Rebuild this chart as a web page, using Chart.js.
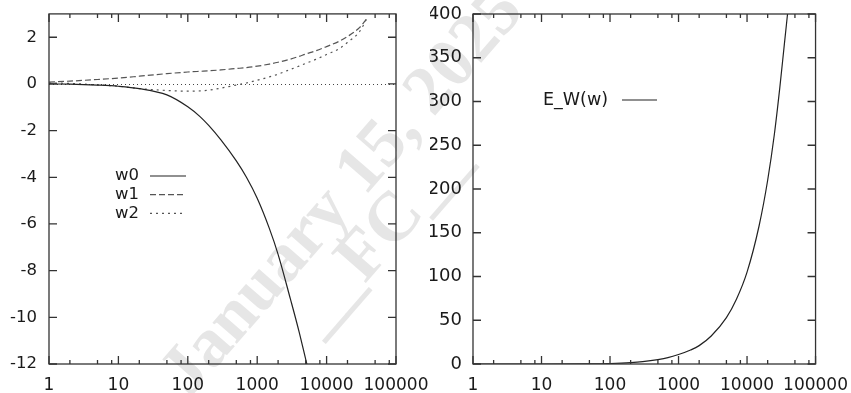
<!DOCTYPE html>
<html>
<head>
<meta charset="utf-8">
<script src="https://cdn.jsdelivr.net/npm/chart.js@4.4.1/dist/chart.umd.min.js"></script>
<style>
body { margin: 0; background: #fff; width: 851px; height: 393px; overflow: hidden; position: relative; }
#izq { position: absolute; left: 0; top: 0; }
#der { position: absolute; left: 430px; top: 0; }
.marca { position: absolute; font: bold 70px "Liberation Serif", serif; color: #e6e6e6; white-space: nowrap;
         transform: translate(-50%, -50%) rotate(-49deg); }
</style>
</head>
<body>
<div class="marca" style="left:340px; top:190px">January 15, 2025</div>
<div class="marca" style="left:378px; top:234px">__FC__</div>
<canvas id="izq" width="440" height="393"></canvas>
<canvas id="der" width="421" height="393"></canvas>
<script>
// ejes
const xMayores = [1, 10, 100, 1000, 10000, 100000];
const xEtiquetas = ['1', '10', '100', '1000', '10000', '100000'];
const xMenores = [2, 5, 8];
const yIzq = [-12, -10, -8, -6, -4, -2, 0, 2];
const yDer = [0, 50, 100, 150, 200, 250, 300, 350, 400];

// grafica izquierda: w0, w1, w2
const w  = [1, 2, 5, 10, 20, 50, 100, 150, 200, 300, 500, 700, 1000, 1500, 2000, 3000, 4000, 5000, 7000, 10000, 15000, 20000, 30000, 38000];
const w0 = [0, -0.01, -0.05, -0.1, -0.2, -0.47, -0.98, -1.4, -1.78, -2.4, -3.3, -4.0, -4.9, -6.2, -7.3, -9.2, -10.6, -11.8, -13.6, null, null, null, null, null];
const w1 = [0.08, 0.12, 0.19, 0.25, 0.33, 0.44, 0.51, 0.54, 0.56, 0.6, 0.66, 0.7, 0.76, 0.85, 0.93, 1.06, 1.18, 1.28, 1.42, 1.6, 1.82, 2.03, 2.42, 2.8];
const w2 = [0.04, 0.02, -0.04, -0.1, -0.2, -0.28, -0.31, -0.3, -0.27, -0.18, -0.05, 0.04, 0.16, 0.3, 0.42, 0.62, 0.76, 0.88, 1.05, 1.26, 1.5, 1.78, 2.25, 2.8];

// grafica derecha: E_W(w)
const wE = [1, 10, 50, 100, 200, 300, 500, 700, 1000, 1500, 2000, 3000, 5000, 7000, 10000, 15000, 20000, 25000, 30000, 35000, 39000];
const eW = [0, 0, 0.2, 0.6, 1.6, 2.7, 5, 7.2, 10.8, 16, 21, 32, 53, 74, 105, 158, 210, 262, 315, 365, 400];

Chart.defaults.font.family = '"DejaVu Sans", sans-serif';
Chart.defaults.font.size = 16;
Chart.defaults.color = '#1a1a1a';
Chart.defaults.animation = false;

const puntos = (xs, ys) => xs.map((x, i) => ({ x: x, y: ys[i] }));

// marco con marcas hacia adentro, como gnuplot
const marcoPlugin = {
    id: 'marco',
    beforeDatasetsDraw(chart, args, o) {
        if (!o.cero) return;
        const { ctx, chartArea: a, scales: { y } } = chart;
        const py = Math.round(y.getPixelForValue(0)) + 0.5;
        ctx.save();
        ctx.strokeStyle = '#444';
        ctx.lineWidth = 1;
        ctx.setLineDash([1, 3]);
        ctx.beginPath();
        ctx.moveTo(a.left, py);
        ctx.lineTo(a.right, py);
        ctx.stroke();
        ctx.restore();
    },
    afterDatasetsDraw(chart) {
        const { ctx, chartArea: a, scales: { x, y } } = chart;
        ctx.save();
        ctx.strokeStyle = '#333';
        ctx.lineWidth = 1.3;
        ctx.strokeRect(a.left, a.top, a.right - a.left, a.bottom - a.top);
        ctx.beginPath();
        xMayores.forEach((v, i) => {
            const px = x.getPixelForValue(v);
            ctx.moveTo(px, a.bottom); ctx.lineTo(px, a.bottom - 8);
            ctx.moveTo(px, a.top); ctx.lineTo(px, a.top + 8);
            if (i < xMayores.length - 1) {
                xMenores.forEach(f => {
                    const pm = x.getPixelForValue(v * f);
                    ctx.moveTo(pm, a.bottom); ctx.lineTo(pm, a.bottom - 4);
                    ctx.moveTo(pm, a.top); ctx.lineTo(pm, a.top + 4);
                });
            }
        });
        y.ticks.forEach(t => {
            const py = y.getPixelForValue(t.value);
            ctx.moveTo(a.left, py); ctx.lineTo(a.left + 8, py);
            ctx.moveTo(a.right, py); ctx.lineTo(a.right - 8, py);
        });
        ctx.stroke();
        ctx.restore();
    }
};

// leyenda: texto a la izquierda, muestra de linea a la derecha
const leyendaPlugin = {
    id: 'leyenda',
    afterDatasetsDraw(chart, args, o) {
        const ctx = chart.ctx;
        ctx.save();
        ctx.font = o.fuente + 'px "DejaVu Sans"';
        ctx.textBaseline = 'middle';
        ctx.fillStyle = '#1a1a1a';
        chart.data.datasets.forEach((ds, i) => {
            const y = o.y + i * o.paso;
            ctx.fillText(ds.label, o.texto, y);
            ctx.strokeStyle = ds.borderColor;
            ctx.lineWidth = ds.borderWidth;
            ctx.setLineDash(ds.borderDash || []);
            ctx.beginPath();
            ctx.moveTo(o.l0, y);
            ctx.lineTo(o.l1, y);
            ctx.stroke();
        });
        ctx.restore();
    }
};

function crearGrafica(id, datasets, yMin, yMax, yTicks, cfg) {
    return new Chart(document.getElementById(id), {
        type: 'line',
        data: { datasets: datasets },
        plugins: [marcoPlugin, leyendaPlugin],
        options: {
            responsive: false,
            layout: { padding: { left: 0, top: cfg.arriba, right: cfg.derecha, bottom: 0 } },
            elements: { point: { radius: 0 }, line: { cubicInterpolationMode: 'monotone' } },
            scales: {
                x: {
                    type: 'logarithmic',
                    min: 1,
                    max: 100000,
                    grid: { display: false },
                    border: { display: false },
                    afterBuildTicks: s => { s.ticks = xMayores.map(v => ({ value: v })); },
                    afterFit: s => { s.height = 29; },
                    ticks: {
                        autoSkip: false,
                        maxRotation: 0,
                        padding: 3,
                        font: { size: cfg.fx },
                        callback: (v, i) => xEtiquetas[i]
                    }
                },
                y: {
                    type: 'linear',
                    min: yMin,
                    max: yMax,
                    grid: { display: false },
                    border: { display: false },
                    afterBuildTicks: s => { s.ticks = yTicks.map(v => ({ value: v })); },
                    afterFit: s => { s.width = cfg.ancho; },
                    ticks: { padding: cfg.pad, font: { size: cfg.fy }, callback: v => String(v) }
                }
            },
            plugins: {
                legend: { display: false },
                tooltip: { enabled: false },
                marco: { cero: cfg.cero },
                leyenda: cfg.leyenda
            }
        }
    });
}

crearGrafica('izq', [
    { label: 'w0', data: puntos(w, w0), borderColor: '#222', borderWidth: 1.2, borderDash: [] },
    { label: 'w1', data: puntos(w, w1), borderColor: '#555', borderWidth: 1.2, borderDash: [6, 3] },
    { label: 'w2', data: puntos(w, w2), borderColor: '#555', borderWidth: 1.2, borderDash: [2, 4] }
], -12, 3, yIzq, {
    arriba: 11, derecha: 44, ancho: 49, pad: 4, cero: true, fx: 17, fy: 16.5,
    leyenda: { fuente: 16.5, texto: 115, y: 176, paso: 18.7, l0: 150, l1: 186 }
});

crearGrafica('der', [
    { label: 'E_W(w)', data: puntos(wE, eW), borderColor: '#222', borderWidth: 1.2, borderDash: [] }
], 0, 400, yDer, {
    arriba: 14, derecha: 34, ancho: 43, pad: 3, cero: false, fx: 17, fy: 18,
    leyenda: { fuente: 17.5, texto: 113, y: 100, paso: 0, l0: 192, l1: 227 }
});
</script>
</body>
</html>
